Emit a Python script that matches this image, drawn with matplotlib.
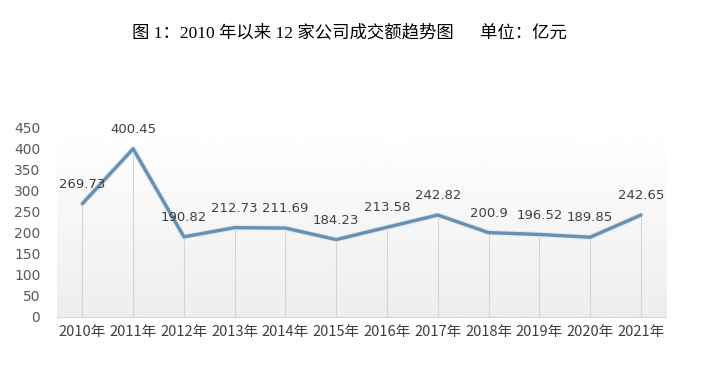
import matplotlib.pyplot as plt
import numpy as np

plt.rcParams['font.family'] = ['Noto Sans CJK SC', 'DejaVu Sans']

years = ['2010年', '2011年', '2012年', '2013年', '2014年', '2015年',
         '2016年', '2017年', '2018年', '2019年', '2020年', '2021年']
amounts = [269.73, 400.45, 190.82, 212.73, 211.69, 184.23,
           213.58, 242.82, 200.9, 196.52, 189.85, 242.65]
amount_labels = ['269.73', '400.45', '190.82', '212.73', '211.69', '184.23',
                 '213.58', '242.82', '200.9', '196.52', '189.85', '242.65']
yticks = [0, 50, 100, 150, 200, 250, 300, 350, 400, 450]

fig = plt.figure(figsize=(7.08, 3.71), dpi=100)
ax = fig.add_axes([0.0805, 0.1456, 0.8605, 0.5094])

x = np.arange(len(years))
ax.set_xlim(-0.5, len(years) - 0.5)
ax.set_ylim(0, 450)

# gradient plot-area background (white at top, light gray at bottom)
grad = np.linspace(1.0, 0.93, 256).reshape(-1, 1)
ax.imshow(grad, cmap='gray', vmin=0, vmax=1, aspect='auto',
          extent=[-0.5, len(years) - 0.5, 0, 450], origin='upper', zorder=0)

# drop lines from axis to each point
ax.vlines(x, 0, amounts, color='#d4d4d4', linewidth=0.8, zorder=1)

# soft glow under line, then the line
ax.plot(x, amounts, color='#dce8f2', linewidth=4, solid_capstyle='round',
        solid_joinstyle='round', zorder=2)
ax.plot(x, amounts, color='#6990b0', linewidth=2.4, solid_capstyle='round',
        solid_joinstyle='round', zorder=3)

for xi, v, lab in zip(x, amounts, amount_labels):
    ax.annotate(lab, (xi, v), xytext=(0, 14), textcoords='offset points',
                ha='center', va='center', fontsize=9.5, color='#404040',
                family=['DejaVu Sans'])

ax.set_xticks(x)
ax.set_xticklabels(years, fontsize=10.5, color='#404040')
ax.set_yticks(yticks)
ax.set_yticklabels([str(t) for t in yticks], fontsize=10, color='#595959',
                   family=['DejaVu Sans'])
ax.tick_params(axis='both', length=0)
ax.tick_params(axis='y', pad=12)
ax.tick_params(axis='x', pad=6)

for side in ['top', 'right', 'left']:
    ax.spines[side].set_visible(False)
ax.spines['bottom'].set_color('#d9d9d9')
ax.spines['bottom'].set_linewidth(0.8)

fig.text(0.493, 0.91, '图 1：2010 年以来 12 家公司成交额趋势图      单位：亿元',
         ha='center', va='center', fontsize=12.5, color='black',
         family=['Liberation Serif', 'Noto Sans CJK SC'])

fig.savefig('out.png', dpi=100)
